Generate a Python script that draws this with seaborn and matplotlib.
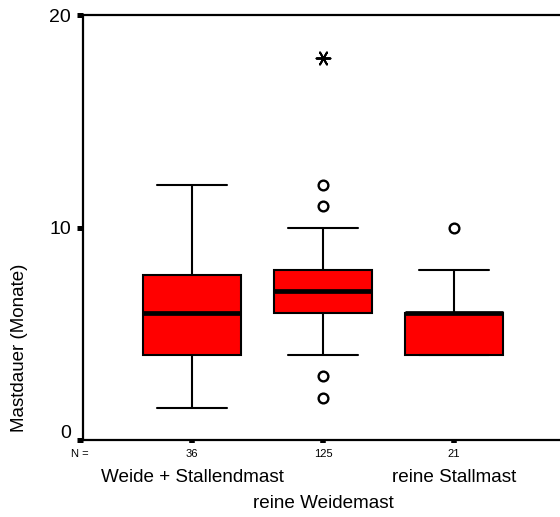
import matplotlib
matplotlib.use("Agg")
import matplotlib.pyplot as plt
import matplotlib.transforms as mtransforms
import numpy as np
import pandas as pd
import seaborn as sns

# ---- data ----
group_names = ["Weide + Stallendmast", "reine Weidemast", "reine Stallmast"]
n_counts = [36, 125, 21]
whisker_low = [1.5, 4, 4]
q1 = [4, 6, 4]
median = [6, 7, 6]
q3 = [7.75, 8, 6]
whisker_high = [12, 10, 8]
outliers = [[], [12, 11, 3, 2], [10]]
extremes = [[], [18], []]
y_ticks = [0, 10, 20]
y_label = "Mastdauer (Monate)"

# ---- build long tables ----
rows = []
for g, lo, a, m, b, hi in zip(group_names, whisker_low, q1, median, q3, whisker_high):
    # seven points whose quartiles (linear interpolation) reproduce the summary
    for v in [lo, a, a, m, b, b, hi]:
        rows.append({"group": g, "value": v})
box_df = pd.DataFrame(rows)

out_df = pd.DataFrame([{"group": g, "value": v}
                       for g, vals in zip(group_names, outliers) for v in vals])
ext_df = pd.DataFrame([{"group": g, "value": v}
                       for g, vals in zip(group_names, extremes) for v in vals])

sns.set_theme(style="white")
plt.rcParams["font.family"] = ["Liberation Sans", "DejaVu Sans"]
plt.rcParams["text.color"] = "black"
plt.rcParams["xtick.color"] = "black"
plt.rcParams["ytick.color"] = "black"
plt.rcParams["axes.labelcolor"] = "black"

fig = plt.figure(figsize=(5.6, 5.17), dpi=100)
W, H = 560, 517
ax = fig.add_axes([83 / W, 1 - 440 / H, 1 - 83 / W, (440 - 15) / H])

sns.boxplot(data=box_df, x="group", y="value", order=group_names, ax=ax,
            whis=(0, 100), width=0.75, color="#FF0000", saturation=1,
            linecolor="black", linewidth=1.5, showfliers=False,
            medianprops=dict(linewidth=3.4, color="black"),
            capwidths=0.53)

sns.stripplot(data=out_df, x="group", y="value", order=group_names, ax=ax,
              jitter=False, marker="o", size=7, color="white",
              edgecolor="black", linewidth=1.7, zorder=5)
sns.stripplot(data=ext_df, x="group", y="value", order=group_names, ax=ax,
              jitter=False, marker=(6, 2, 90), size=10, color="black",
              edgecolor="black", linewidth=1.4, zorder=5)

ax.set_xlim(-0.832, 2.81)
ax.set_ylim(0, 20)
ax.set_yticks(y_ticks)
ax.set_yticklabels([str(t) for t in y_ticks], fontsize=14, color="black")
ax.set_xticks(range(len(group_names)))
ax.set_xticklabels([])
ax.set_xlabel("")
ax.set_ylabel("")

for s in ["left", "top", "bottom"]:
    ax.spines[s].set_visible(True)
    ax.spines[s].set_color("black")
    ax.spines[s].set_linewidth(1.6)
ax.spines["right"].set_visible(False)

ax.tick_params(axis="y", which="major", left=True, direction="out",
               length=4.3, width=3.6, color="black", pad=4.3, labelcolor="black")
ax.tick_params(axis="x", which="major", bottom=True, direction="out",
               length=2.5, width=4.0, color="black")

# lift the "0" label a little, as in the reference
lbl0 = ax.get_yticklabels()[0]
lbl0.set_transform(lbl0.get_transform() +
                   mtransforms.ScaledTranslation(0, 8 / 100, fig.dpi_scale_trans))

# N row and staggered category labels
fig.text(80 / W, 1 - 454 / H, "N =", ha="center", va="center", fontsize=8,
         color="black")
xt = ax.get_xaxis_transform()
for i, (g, n) in enumerate(zip(group_names, n_counts)):
    ax.annotate(str(n), xy=(i, 0), xycoords=xt, xytext=(0, -14),
                textcoords="offset pixels", ha="center", va="center", fontsize=8,
                color="black")
    dy = -38 if i % 2 == 0 else -63
    ax.annotate(g, xy=(i, 0), xycoords=xt, xytext=(0, dy),
                textcoords="offset pixels", ha="center", va="center",
                fontsize=13.6, color="black")

fig.text(20 / W, 1 - 348 / H, y_label, rotation=90, ha="center", va="center",
         fontsize=13.5, color="black")

fig.savefig("out.png", dpi=100)
